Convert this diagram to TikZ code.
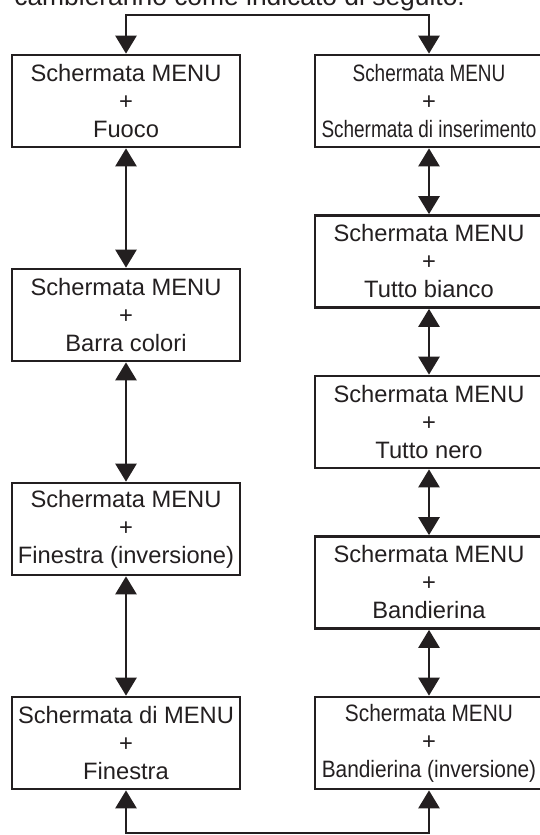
\documentclass[tikz,border=0pt]{standalone}
\usepackage{fontspec}
\setmainfont{Liberation Sans}
\usetikzlibrary{arrows.meta}
\definecolor{ink}{HTML}{231F20}
\newcommand{\narrowline}[2]{\scalebox{#1}[1]{#2}}

\begin{document}
\begin{tikzpicture}[x=0.5pt,y=-0.5pt,<->,>={Triangle[width=10.5pt,length=9pt]},
      line width=1.35pt,color=ink,
      screen/.style={rectangle,draw,minimum width=114pt,minimum height=46pt,
      inner sep=0pt,align=center,font=\fontsize{11.85}{14}\selectfont}]
      \useasboundingbox (0,0) rectangle (540,835);
      \clip (0,0) rectangle (540,835);

      \node[anchor=base west,inner sep=0pt,font=\fontsize{13.2}{16}\selectfont]
      (intro) at (13,5) {cambieranno come indicato di seguito.};

      % left column
      \node[screen] (l1) at (126,101) {Schermata MENU\\+\\Fuoco};
      \node[screen] (l2) at (126,315) {Schermata MENU\\+\\Barra colori};
      \node[screen] (l3) at (126,529) {Schermata MENU\\+\\Finestra (inversione)};
      \node[screen] (l4) at (126,743) {Schermata di MENU\\+\\Finestra};

      % right column
      \node[screen] (r1) at (429,101)
      {\narrowline{0.8}{Schermata MENU}\\+\\\narrowline{0.8}{Schermata di inserimento}};
      \node[screen] (r2) at (429,261.5) {Schermata MENU\\+\\Tutto bianco};
      \node[screen] (r3) at (429,422) {Schermata MENU\\+\\Tutto nero};
      \node[screen] (r4) at (429,582.5) {Schermata MENU\\+\\Bandierina};
      \node[screen] (r5) at (429,743)
      {\narrowline{0.88}{Schermata MENU}\\+\\\narrowline{0.88}{Bandierina (inversione)}};

      \coordinate (tl) at (126,15);
      \coordinate (tr) at (429,15);
      \coordinate (bl) at (126,833);
      \coordinate (br) at (429,833);

      \path
      (l1) edge (l2)
      (l2) edge (l3)
      (l3) edge (l4)
      (r1) edge (r2)
      (r2) edge (r3)
      (r3) edge (r4)
      (r4) edge (r5);

      \draw (l1) -- (tl) -- (tr) -- (r1);
      \draw (l4) -- (bl) -- (br) -- (r5);
\end{tikzpicture}
\end{document}
